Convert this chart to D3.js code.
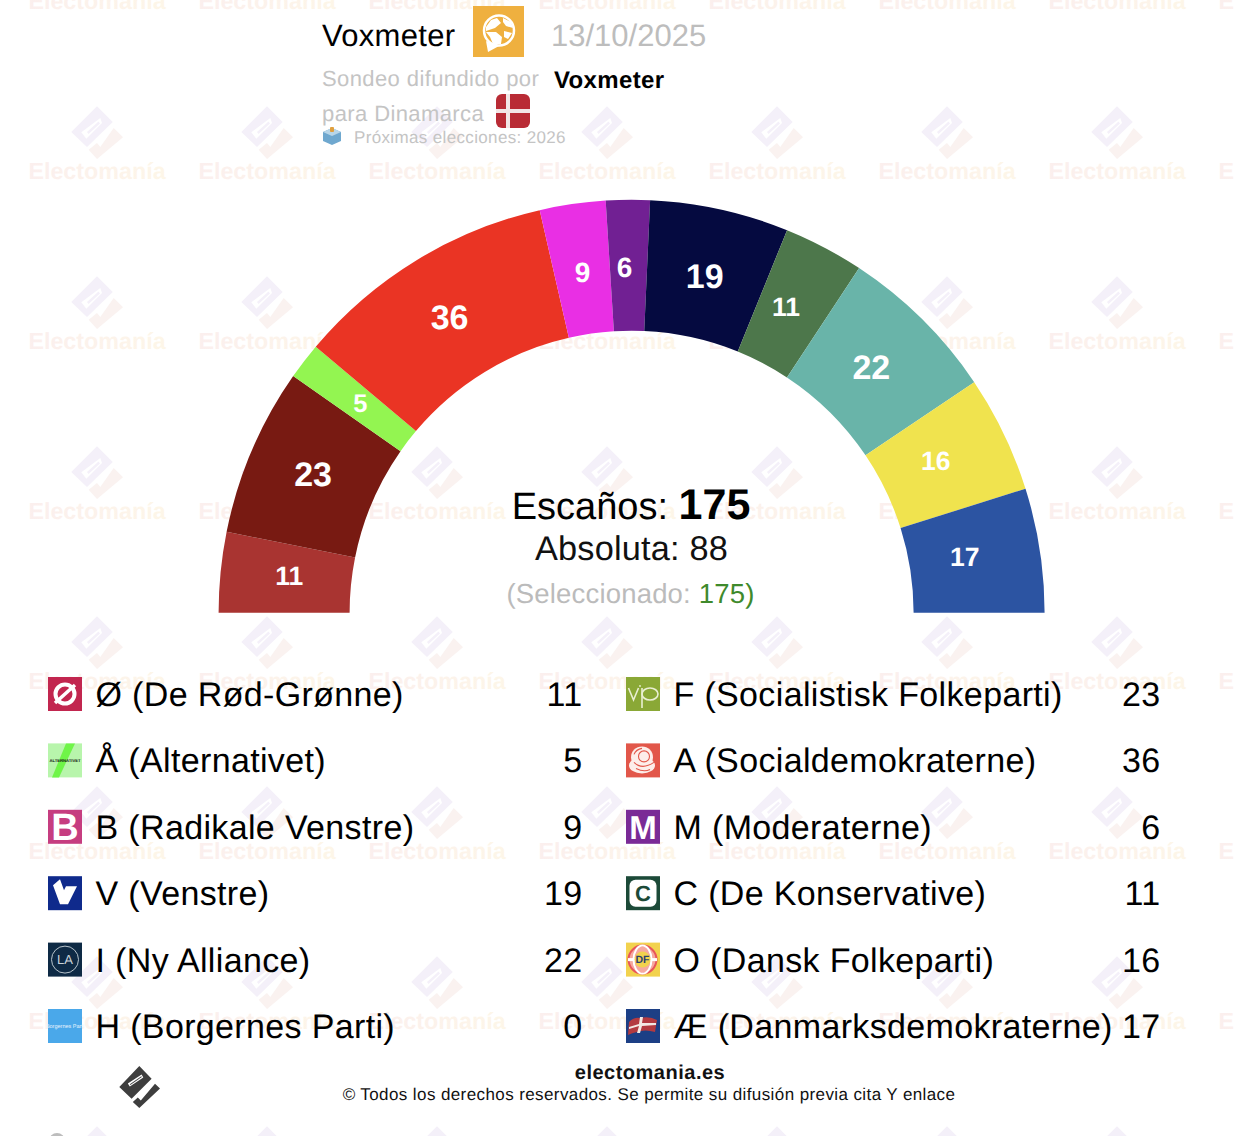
<!DOCTYPE html>
<html>
<head>
<meta charset="utf-8">
<script src="https://cdn.jsdelivr.net/npm/d3@7"></script>
<style>
html, body { margin: 0; padding: 0; background: #fff; overflow: hidden; }
text { font-family: "Liberation Sans", Arial, sans-serif; text-rendering: geometricPrecision; }
</style>
</head>
<body>
<script>
var width = 1234,
    height = 1136;

// hemicycle, left to right
var arcParties = ["Ø", "F", "Å", "A", "B", "M", "V", "C", "I", "O", "Æ"];
var arcSeats = [11, 23, 5, 36, 9, 6, 19, 11, 22, 16, 17];
var arcColors = ["#a93431", "#781a12", "#93f551", "#ea3424", "#e92fe4", "#712093", "#050a40", "#4d774b", "#69b4a9", "#f0e34e", "#2c54a2"];
var arcFontSizes = [26.5, 34, 25.5, 34, 28, 28, 34, 26.5, 34, 26.5, 26.5];

// legend columns
var leftNames = ["Ø (De Rød-Grønne)", "Å (Alternativet)", "B (Radikale Venstre)", "V (Venstre)", "I (Ny Alliance)", "H (Borgernes Parti)"];
var leftSeats = [11, 5, 9, 19, 22, 0];
var rightNames = ["F (Socialistisk Folkeparti)", "A (Socialdemokraterne)", "M (Moderaterne)", "C (De Konservative)", "O (Dansk Folkeparti)", "Æ (Danmarksdemokraterne)"];
var rightSeats = [23, 36, 6, 11, 16, 17];
var leftIcons = ["#c2264f", "#b8f5ac", "#c63d80", "#0f2a8c", "#0e2a45", "#4aa8ea"];
var rightIcons = ["#8aa836", "#e2574a", "#7a2a96", "#1c4a38", "#f2d24e", "#1c3f85"];

var svg = d3.select("body").append("svg")
    .attr("width", width)
    .attr("height", height)
    .style("display", "block");

var defs = svg.append("defs");

var grad = defs.append("linearGradient").attr("id", "wm-grad");
grad.append("stop").attr("offset", "0%").attr("stop-color", "#fbefee");
grad.append("stop").attr("offset", "100%").attr("stop-color", "#fdf6e8");

var markTop = "M0,-26.7 L15.7,-11 L-10,14 L-25.7,-1 Z M3.3,-15 L-15.7,-0.7 L-10.7,5.7 L5,-10 Z";
var markBar = "M1.5,-11.5 L-10,-1 L-8.5,1 L3,-9.5 Z";

// watermark grid
var wmXs = d3.range(97, width + 170, 170),
    wmYs = d3.range(1, height + 170, 170);
var wm = svg.append("g");
wmYs.forEach(function (y) {
    wmXs.forEach(function (x) {
        var g = wm.append("g").attr("transform", "translate(" + x + "," + y + ")");
        var m = g.append("g").attr("transform", "translate(0,-38)");
        m.append("path").attr("fill-rule", "evenodd").attr("d", markTop).attr("fill", "#f4f0f9");
        m.append("path").attr("d", markBar).attr("fill", "#f4f0f9");
        m.append("path").attr("d", "M16.7,-5 L26,4.3 L0,26 L-8.3,16.7 L0,10 L3.3,14 Z").attr("fill", "#faf2f0");
        g.append("text")
            .attr("text-anchor", "middle")
            .attr("y", 8)
            .attr("font-size", 23.3)
            .attr("font-weight", "bold")
            .attr("fill", "url(#wm-grad)")
            .text("Electomanía");
    });
});

// hemicycle
var cx = 631.6, cy = 612.8, outerR = 413, innerR = 282;

var pie = d3.pie()
    .sort(null)
    .startAngle(-Math.PI / 2)
    .endAngle(Math.PI / 2);

var arc = d3.arc().innerRadius(innerR).outerRadius(outerR);
var labelArc = d3.arc().innerRadius(342).outerRadius(342);

var arcs = pie(arcSeats);

var chart = svg.append("g").attr("transform", "translate(" + cx + "," + cy + ")");

chart.selectAll("path")
    .data(arcs)
    .enter().append("path")
    .attr("d", arc)
    .attr("fill", function (d, i) { return arcColors[i]; });

// the labels sit slightly up and left of the ring's own centroid
var labelNudge = [[1, 0], [-1, -1], [3, 2], [-1, -1], [3, 1], [-1, -1], [3, 0], [-2, 0], [2, 0], [-1, -1], [-2, -1]];

chart.selectAll("text")
    .data(arcs)
    .enter().append("text")
    .attr("transform", function (d, i) {
        var c = labelArc.centroid(d);
        return "translate(" + (c[0] - 3 + labelNudge[i][0]) + "," + (c[1] - 3.3 + labelNudge[i][1]) + ")";
    })
    .attr("text-anchor", "middle")
    .attr("dy", "0.36em")
    .attr("fill", "#fff")
    .attr("font-weight", "bold")
    .attr("font-size", function (d, i) { return arcFontSizes[i]; })
    .text(function (d) { return d.value; });

// center text
var total = d3.sum(arcSeats);
var t1 = svg.append("text").attr("x", 631).attr("y", 518.5).attr("text-anchor", "middle").attr("font-size", 38).attr("fill", "#000");
t1.append("tspan").text("Escaños: ");
t1.append("tspan").attr("font-weight", "bold").attr("font-size", 43).text(total);

svg.append("text").attr("x", 631.5).attr("y", 559.5).attr("text-anchor", "middle").attr("font-size", 34.3).attr("letter-spacing", 0.2).attr("fill", "#111").text("Absoluta: 88");

var t3 = svg.append("text").attr("x", 630.5).attr("y", 603).attr("text-anchor", "middle").attr("font-size", 27.5).attr("letter-spacing", 0.18).attr("fill", "#bbb");
t3.append("tspan").text("(Seleccionado: ");
t3.append("tspan").attr("fill", "#3f8a2c").text(total);
t3.append("tspan").attr("fill", "#3f8a2c").text(")");

// header
svg.append("text").attr("x", 322).attr("y", 46).attr("font-size", 31).attr("letter-spacing", 0.3).attr("fill", "#000").text("Voxmeter");
svg.append("text").attr("x", 551).attr("y", 46).attr("font-size", 31).attr("fill", "#bdbdbd").text("13/10/2025");
svg.append("text").attr("x", 322).attr("y", 86).attr("font-size", 22).attr("letter-spacing", 0.4).attr("fill", "#c4c4c4").text("Sondeo difundido por");
svg.append("text").attr("x", 554).attr("y", 88).attr("font-size", 24).attr("letter-spacing", 0.35).attr("font-weight", "bold").attr("fill", "#000").text("Voxmeter");
svg.append("text").attr("x", 322).attr("y", 121).attr("font-size", 22).attr("letter-spacing", 0.4).attr("fill", "#c4c4c4").text("para Dinamarca");
svg.append("text").attr("x", 354).attr("y", 143).attr("font-size", 17).attr("letter-spacing", 0.35).attr("fill", "#c4c4c4").text("Próximas elecciones: 2026");

// pollster logo
var pl = svg.append("g").attr("transform", "translate(473,6)");
pl.append("rect").attr("width", 51).attr("height", 51).attr("fill", "#efb03f");
pl.append("circle").attr("cx", 26).attr("cy", 24.5).attr("r", 15).attr("fill", "none").attr("stroke", "#fff").attr("stroke-width", 2.5);
pl.append("path").attr("fill", "#fff").attr("d", "M13,35 L15,46 L26,40 Z M13,21 L18,14 L24,12 L28,17 L22,22 L13,25 Z M13,26 L23,26 L29,31 L28,38 L20,38 L17,31 Z M30,12 L38,16 L40,22 L33,20 L30,16 Z M31,25 L39,27 L35,33 L31,31 Z");

// flag
var fl = svg.append("g").attr("transform", "translate(496,94)");
fl.append("rect").attr("width", 34).attr("height", 34).attr("rx", 6).attr("fill", "#b92b35");
fl.append("rect").attr("x", 10).attr("width", 4).attr("height", 34).attr("fill", "#f2e6e6");
fl.append("rect").attr("y", 15).attr("width", 34).attr("height", 4).attr("fill", "#f2e6e6");

// ballot box
var bb = svg.append("g").attr("transform", "translate(323,127)");
bb.append("path").attr("d", "M0,5 L9,1 L18,5 L18,14 L9,18 L0,14 Z").attr("fill", "#6fa8cf");
bb.append("path").attr("d", "M0,5 L9,1 L18,5 L9,9 Z").attr("fill", "#b9d6e8");
bb.append("rect").attr("x", 7).attr("y", 0).attr("width", 4).attr("height", 5).attr("rx", 1).attr("fill", "#e0a040");

// legend
var rowY = d3.scalePoint().domain(d3.range(6)).range([694, 1026]);

function drawColumn(names, seats, icons, iconX, textX, valueX) {
    var g = svg.append("g");
    var row = g.selectAll("g")
        .data(names)
        .enter().append("g")
        .attr("transform", function (d, i) { return "translate(0," + rowY(i) + ")"; });

    row.append("rect")
        .attr("x", iconX).attr("y", -17)
        .attr("width", 34).attr("height", 34)
        .attr("fill", function (d, i) { return icons[i]; });

    row.append("text")
        .attr("x", textX).attr("y", 12)
        .attr("font-size", 34)
        .attr("letter-spacing", 0.35)
        .attr("fill", "#000")
        .text(function (d) { return d; });

    row.append("text")
        .attr("x", valueX).attr("y", 12)
        .attr("text-anchor", "end")
        .attr("font-size", 34)
        .attr("letter-spacing", 0.35)
        .attr("fill", "#000")
        .text(function (d, i) { return seats[i]; });

    return row;
}

var leftRows = drawColumn(leftNames, leftSeats, leftIcons, 48, 95.5, 582.5);
var rightRows = drawColumn(rightNames, rightSeats, rightIcons, 626, 673.5, 1160.5);

function cell(rows, i) { return d3.select(rows.nodes()[i]); }

function iconText(row, i, x, txt, size, color, weight) {
    cell(row, i).append("text")
        .attr("x", x).attr("y", size * 0.36)
        .attr("text-anchor", "middle")
        .attr("font-size", size)
        .attr("font-weight", weight || "bold")
        .attr("fill", color)
        .text(txt);
}

// party logos, rough versions
var oe = cell(leftRows, 0);
oe.append("circle").attr("cx", 65).attr("cy", 0).attr("r", 9.5).attr("fill", "none").attr("stroke", "#fff").attr("stroke-width", 4);
oe.append("path").attr("d", "M55,9 L75,-9").attr("stroke", "#fff").attr("stroke-width", 3.5);
cell(leftRows, 1).append("path").attr("d", "M66,-17 L75,-17 L59,17 L52,17 Z").attr("fill", "#6ff548");
iconText(leftRows, 1, 65, "ALTERNATIVET", 4.2, "#111");
iconText(leftRows, 2, 65, "B", 38, "#fff");
cell(leftRows, 3).append("path").attr("d", "M53,-8 L60,-14 L64,-3 L66,-7 L77,-7 L68,11 L60,11 Z").attr("fill", "#fff");
cell(leftRows, 4).append("circle").attr("cx", 65).attr("cy", 0).attr("r", 13.5).attr("fill", "none").attr("stroke", "#b8c4cc").attr("stroke-width", 1);
iconText(leftRows, 4, 65, "LA", 13, "#c8d2d8", "normal");
iconText(leftRows, 5, 65, "Borgernes Parti", 5.5, "#e8f4fd", "normal");

var vp = cell(rightRows, 0);
vp.append("path").attr("d", "M628.5,-6 L633.5,6 L638.5,-6 M642,-6 L642,14").attr("fill", "none").attr("stroke", "#e9efd2").attr("stroke-width", 1.6);
vp.append("ellipse").attr("cx", 650).attr("cy", 0).attr("rx", 8).attr("ry", 6).attr("fill", "none").attr("stroke", "#e9efd2").attr("stroke-width", 1.6);
vp.append("circle").attr("cx", 640).attr("cy", -8).attr("r", 0.9).attr("fill", "#e9efd2");

var rose = cell(rightRows, 1);
rose.append("circle").attr("cx", 642).attr("cy", -3).attr("r", 11).attr("fill", "#fdeeea");
rose.append("ellipse").attr("cx", 642).attr("cy", 5).attr("rx", 13).attr("ry", 8).attr("fill", "#fdeeea");
rose.append("circle").attr("cx", 644).attr("cy", -4).attr("r", 5.5).attr("fill", "none").attr("stroke", "#e2574a").attr("stroke-width", 1.1);
rose.append("path").attr("d", "M634,2 Q642,10 654,2 M636,8 Q644,12 650,9 M634,-6 Q636,-11 642,-12").attr("fill", "none").attr("stroke", "#e2574a").attr("stroke-width", 1.1);

iconText(rightRows, 2, 643, "M", 33, "#fff");
cell(rightRows, 3).append("rect").attr("x", 629.5).attr("y", -13.5).attr("width", 27).attr("height", 27).attr("rx", 6).attr("fill", "#fff");
iconText(rightRows, 3, 643, "C", 22, "#1c4a38");

var df = cell(rightRows, 4);
df.append("circle").attr("cx", 642.5).attr("cy", 0).attr("r", 14).attr("fill", "#f6a9a0").attr("stroke", "#e8555a").attr("stroke-width", 2);
df.append("ellipse").attr("cx", 642.5).attr("cy", 0).attr("rx", 9).attr("ry", 14).attr("fill", "none").attr("stroke", "#fff").attr("stroke-width", 2);
df.append("path").attr("d", "M628,0 L657,0").attr("stroke", "#fff").attr("stroke-width", 3);
df.append("circle").attr("cx", 642.5).attr("cy", 0).attr("r", 8).attr("fill", "#f2d24e");
iconText(rightRows, 4, 642.5, "DF", 10.5, "#2c4070");

var dd = cell(rightRows, 5);
dd.append("path").attr("d", "M629,-4 Q634,-9 640,-8 Q650,-10 657,-6 L655,6 Q645,3 637,6 Q632,7 628,9 Z").attr("fill", "#b33a40");
dd.append("path").attr("d", "M640,-9 L643,-9 L642,-3 L656,-3 L656,-1 L642,0 L640,7 L637,7 L639,0 L629,3 L629,1 L639,-2 Z").attr("fill", "#f3e9e4");

// footer
svg.append("text").attr("x", 650).attr("y", 1079).attr("text-anchor", "middle").attr("font-size", 20).attr("letter-spacing", 0.5).attr("font-weight", "bold").attr("fill", "#111").text("electomania.es");
svg.append("text").attr("x", 649).attr("y", 1100).attr("text-anchor", "middle").attr("font-size", 17).attr("letter-spacing", 0.4).attr("fill", "#111").text("© Todos los derechos reservados. Se permite su difusión previa cita Y enlace");

var fm = svg.append("g").attr("transform", "translate(139.3,1087)").attr("fill", "#3e3e3e");
fm.append("path").attr("fill-rule", "evenodd").attr("d", "M0,-21 L12.3,-8.3 L-7.7,11.7 L-20,0 Z M2.3,-12.5 L4,-9.5 L-9.5,-0.5 L-11.5,-3.5 Z");
fm.append("path").attr("d", "M2,-10.8 L-9.5,-2.8 L-9,-2 L2.5,-10 Z");
fm.append("path").attr("d", "M15.7,-3.3 L20.7,1.5 L0,21 L-6.5,15 L-1.5,10.5 L1.5,13.5 Z");

svg.append("circle").attr("cx", 57).attr("cy", 1141).attr("r", 8).attr("fill", "#bdbdbd");
</script>
</body>
</html>
